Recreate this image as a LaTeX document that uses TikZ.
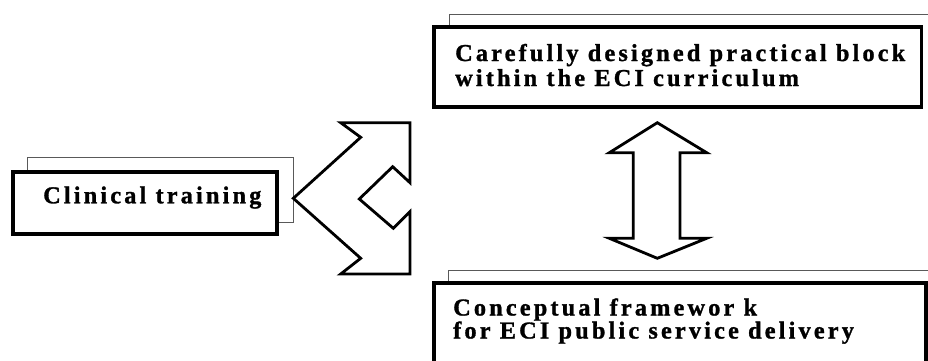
\documentclass[tikz,border=0pt]{standalone}
\usepackage{fontspec}
\setmainfont{Liberation Serif}
\newfontfamily\lblfont[LetterSpace=13,FakeBold=1.2]{Liberation Serif}
\tikzset{
  thinbox/.style={draw=black!65, line width=0.9pt, fill=white, inner sep=0pt, outer sep=0pt},
  thinedge/.style={draw=black!65, line width=0.9pt},
  ghost/.style={inner sep=0pt, outer sep=0pt},
  thickbox/.style={draw=black, line width=3.2pt, fill=white, inner sep=0pt, outer sep=0pt},
  lbl/.style={font=\lblfont\bfseries\fontsize{24.3}{26}\selectfont, inner sep=0pt, anchor=base west},
  arrowshape/.style={draw=black, line width=2.8pt, line join=miter, fill=white}
}
\begin{document}
\begin{tikzpicture}[x=1pt,y=-1pt]
\useasboundingbox (0,0) rectangle (928,360);
\clip (0,0) rectangle (928,360);
% Clinical training
\node[thinbox, minimum width=266pt, minimum height=65pt] (ctback) at (160,189.5) {};
\node[thickbox, minimum width=264pt, minimum height=62pt] (ct) at (145,203) {};
\node[lbl] (cttext) at (43,203.3) {Clinical training};
% top box
\node[ghost, minimum width=531pt, minimum height=81pt] (topback) at (714.5,54.5) {};
\draw[thinedge] (topback.south west) -- (topback.north west) -- (topback.north east);
\node[thickbox, minimum width=487.5pt, minimum height=80pt] (top) at (677.75,67) {};
\node[lbl] (topa) at (455,61) {Carefully designed practical block};
\node[lbl] (topb) at (455,86) {within the ECI curriculum};
% bottom box
\node[ghost, minimum width=532pt, minimum height=130pt] (botback) at (714,335) {};
\draw[thinedge] (botback.south west) -- (botback.north west) -- (botback.north east);
\node[thickbox, minimum width=492pt, minimum height=117pt] (bot) at (680,341.5) {};
\node[lbl] (bota) at (453,315.5) {Conceptual framewor k};
\node[lbl] (botb) at (453,338.5) {for ECI public service delivery};
% left-pointing chevron arrow
\draw[arrowshape] (293.3,198.3) -- (360.7,137.3) -- (340.7,122.7) -- (410,122.7)
  -- (410,182.7) -- (392.7,166.7) -- (359.3,199) -- (393.3,228.3) -- (410,211.7)
  -- (410,274) -- (340.7,274) -- (360.7,258.3) -- cycle;
% vertical double arrow
\draw[arrowshape] (657.3,122.7) -- (706.7,152.7) -- (680,152.7) -- (680,238.3)
  -- (706.7,238.3) -- (657.3,258.3) -- (609.3,238.3) -- (633.3,238.3)
  -- (633.3,152.7) -- (609.3,152.7) -- cycle;
\end{tikzpicture}
\end{document}
